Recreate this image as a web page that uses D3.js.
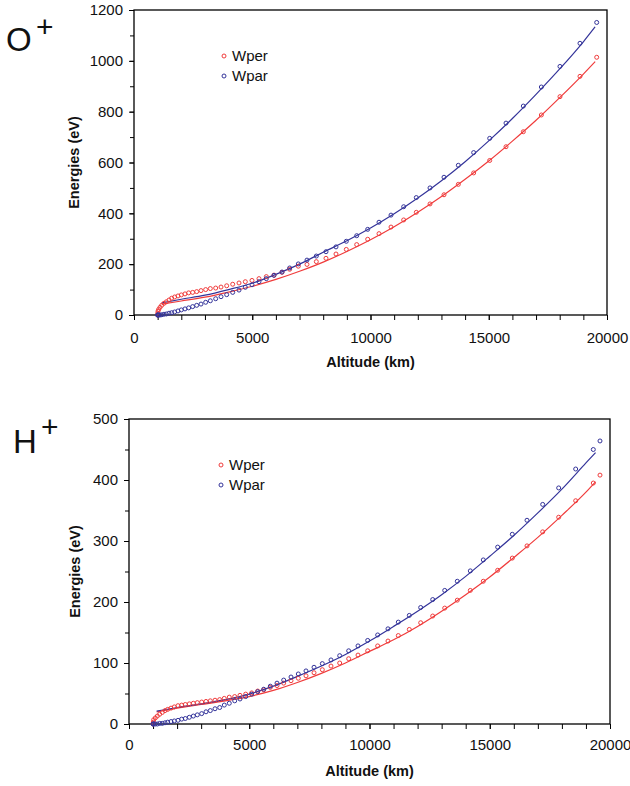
<!DOCTYPE html>
<html>
<head>
<meta charset="utf-8">
<script src="https://cdn.jsdelivr.net/npm/d3@7"></script>
<style>
  body { margin: 0; background: #fff; }
  text { font-family: "Liberation Sans", Arial, sans-serif; }
</style>
</head>
<body>
<div id="content"></div>
<script>

// ---- O+ panel (top) ----
oAlt = [1000, 1005, 1015, 1043, 1099, 1170, 1268, 1367, 1480, 1592,
  1719, 1860, 2001, 2156, 2311, 2480, 2650, 2833, 3030, 3228,
  3454, 3679, 3919, 4173, 4440, 4707, 4989, 5285, 5595, 5920,
  6258, 6582, 6948, 7315, 7709, 8118, 8541, 8977, 9416, 9881,
  10360, 10867, 11403, 11937, 12516, 13108, 13714, 14362, 15040, 15730,
  16462, 17224, 18012, 18858, 19564]
oWper = [0, 7, 15, 22, 30, 38, 46, 52, 59, 66,
  71, 75, 79, 83, 87, 89, 92, 96, 100, 104,
  106, 110, 115, 121, 126, 131, 136, 143, 151, 157,
  168, 180, 192, 199, 210, 223, 240, 258, 277, 298,
  320, 346, 374, 404, 437, 473, 514, 559, 608, 662,
  721, 787, 859, 939, 1014]
oWpar = [0, 0, 0, 0, 0, 1, 3, 4, 7, 9,
  12, 16, 20, 24, 28, 33, 38, 43, 50, 56,
  64, 72, 80, 89, 98, 109, 119, 131, 143, 156,
  169, 185, 201, 216, 232, 249, 268, 290, 312, 337,
  365, 393, 426, 462, 500, 542, 589, 639, 695, 755,
  822, 897, 978, 1069, 1151]
// fitted curves
oFitAlt = [1170, 2000, 3000, 4000, 5000, 6000, 7000, 8000, 9000, 10000,
  11000, 12000, 13000, 14000, 15000, 16000, 17000, 18000, 19000, 19500]
oFitWper = [43, 55, 70, 90, 113, 140, 172, 208, 250, 296,
  347, 404, 466, 534, 606, 684, 766, 855, 948, 997]
oFitWpar = [48, 62, 78, 100, 125, 160, 200, 247, 292, 342,
  398, 460, 528, 603, 685, 773, 868, 968, 1075, 1134]

// ---- H+ panel (bottom) ----
hAlt = [1000, 1010, 1026, 1095, 1178, 1275, 1386, 1497, 1608, 1746,
  1884, 2037, 2190, 2342, 2508, 2675, 2841, 3022, 3202, 3381,
  3576, 3771, 3962, 4170, 4395, 4615, 4852, 5102, 5351, 5601,
  5876, 6154, 6432, 6736, 7040, 7360, 7693, 8038, 8399, 8761,
  9134, 9522, 9925, 10340, 10769, 11198, 11655, 12128, 12628, 13127,
  13651, 14192, 14732, 15330, 15938, 16549, 17201, 17866, 18573, 19306,
  19584]
hWper = [0, 3, 7, 10, 13, 16, 19, 22, 24, 26,
  28, 30, 31, 32, 33, 34, 35, 36, 37, 38,
  39, 40, 42, 44, 45, 47, 49, 51, 54, 56,
  60, 63, 67, 71, 75, 79, 84, 89, 95, 100,
  107, 113, 120, 128, 136, 145, 155, 166, 177, 190,
  203, 219, 234, 252, 272, 292, 315, 339, 366, 395,
  408]
hWpar = [0, 0, 0, 0, 0, 1, 1, 2, 3, 4,
  5, 6, 8, 9, 11, 13, 15, 17, 20, 22,
  25, 27, 31, 34, 38, 41, 45, 49, 53, 57,
  62, 67, 72, 77, 82, 87, 93, 99, 105, 112,
  120, 128, 137, 146, 156, 167, 178, 191, 204, 219,
  234, 251, 269, 290, 311, 334, 360, 387, 418, 450,
  464]
hFitAlt = [1150, 2000, 3000, 4000, 5000, 6000, 7000, 8000, 9000, 10000,
  11000, 12000, 13000, 14000, 15000, 16000, 17000, 18000, 19000, 19400]
hFitWper = [20, 26, 32, 38, 45, 55, 68, 83, 100, 119,
  138, 160, 185, 212, 241, 273, 306, 342, 380, 397]
hFitWpar = [21, 27, 33, 40, 49, 62, 78, 95, 114, 136,
  160, 185, 212, 242, 275, 309, 346, 385, 428, 445]

// axes
xTicks = [0, 5000, 10000, 15000, 20000]
oYTicks = [0, 200, 400, 600, 800, 1000, 1200]
hYTicks = [0, 100, 200, 300, 400, 500]
seriesNames = ['Wper', 'Wpar']
seriesColors = ['#f03c3c', '#34349a']

svg = d3.select('#content').append('svg')
  .attr('width', 630)
  .attr('height', 786)

styleAxis = function(sel) {
  sel.selectAll('text')
    .attr('font-size', 15)
    .attr('font-family', '"Liberation Sans", Arial, sans-serif')
    .attr('fill', '#111')
  sel.selectAll('line').attr('stroke', '#000')
  sel.select('.domain').remove()
}

buildPanel = function(p) {
  var x = d3.scaleLinear().domain([0, 20000]).range([p.left, p.right])
  var y = d3.scaleLinear().domain([0, p.yMax]).range([p.bottom, p.top])
  var g = svg.append('g')

  // minor ticks
  g.append('g')
    .attr('transform', 'translate(0,' + p.bottom + ')')
    .call(d3.axisBottom(x).tickValues(d3.range(0, 20001, 1000)).tickSize(5).tickFormat(''))
    .call(styleAxis)
  g.append('g')
    .attr('transform', 'translate(' + p.left + ',0)')
    .call(d3.axisLeft(y).tickValues(d3.range(0, p.yMax + 1, p.yMinor)).tickSize(4).tickFormat(''))
    .call(styleAxis)

  // major ticks + labels
  g.append('g')
    .attr('transform', 'translate(0,' + p.bottom + ')')
    .call(d3.axisBottom(x).tickValues(xTicks).tickSize(5).tickPadding(p.xPad).tickFormat(d3.format('d')))
    .call(styleAxis)
  g.append('g')
    .attr('transform', 'translate(' + p.left + ',0)')
    .call(d3.axisLeft(y).tickValues(p.yTicks).tickSize(5).tickPadding(6).tickFormat(d3.format('d')))
    .call(styleAxis)

  // frame
  g.append('rect')
    .attr('x', p.left)
    .attr('y', p.top)
    .attr('width', p.right - p.left)
    .attr('height', p.bottom - p.top)
    .attr('fill', 'none')
    .attr('stroke', '#000')
    .attr('stroke-width', 1.3)

  // fitted curves
  var fits = [p.fitWper, p.fitWpar]
  for (i = 0; i < fits.length; i++) {
    var pts = p.fitAlt.map(function(a, k) { return [a, fits[i][k]] })
    g.append('path')
      .attr('d', d3.line().x(function(d) { return x(d[0]) }).y(function(d) { return y(d[1]) })
        .curve(d3.curveMonotoneX)(pts))
      .attr('fill', 'none')
      .attr('stroke', seriesColors[i])
      .attr('stroke-width', 1.2)
  }

  // data markers
  var series = [p.wper, p.wpar]
  for (i = 0; i < series.length; i++) {
    g.append('g').selectAll('circle')
      .data(p.alt.map(function(a, k) { return [a, series[i][k]] }))
      .enter().append('circle')
      .attr('cx', function(d) { return x(d[0]) })
      .attr('cy', function(d) { return y(d[1]) })
      .attr('r', 2)
      .attr('fill', 'none')
      .attr('stroke', seriesColors[i])
      .attr('stroke-width', 1)
  }

  // legend
  for (i = 0; i < seriesNames.length; i++) {
    g.append('circle')
      .attr('cx', p.legX)
      .attr('cy', p.legY + i * 20)
      .attr('r', 2)
      .attr('fill', 'none')
      .attr('stroke', seriesColors[i])
      .attr('stroke-width', 1)
    g.append('text')
      .attr('x', p.legX + 8)
      .attr('y', p.legY + i * 20)
      .attr('dy', '0.35em')
      .attr('font-size', 15)
      .attr('fill', '#111')
      .text(seriesNames[i])
  }

  // axis titles
  g.append('text')
    .attr('x', (p.left + p.right) / 2)
    .attr('y', p.xTitleY)
    .attr('text-anchor', 'middle')
    .attr('font-size', 14.5)
    .attr('font-weight', 'bold')
    .attr('fill', '#111')
    .text('Altitude (km)')
  g.append('text')
    .attr('transform', 'translate(' + p.yTitleX + ',' + ((p.top + p.bottom) / 2) + ') rotate(-90)')
    .attr('text-anchor', 'middle')
    .attr('font-size', 14.5)
    .attr('font-weight', 'bold')
    .attr('fill', '#111')
    .text('Energies (eV)')

  // ion label
  g.append('text')
    .attr('x', p.ionX)
    .attr('y', p.ionY)
    .attr('font-size', 33)
    .attr('fill', '#111')
    .text(p.ion)
  g.append('text')
    .attr('x', p.plusX)
    .attr('y', p.plusY)
    .attr('font-size', 30)
    .attr('fill', '#111')
    .text('+')
}

buildPanel({left: 134, right: 607, top: 10, bottom: 315, yMax: 1200, yMinor: 100,
  yTicks: oYTicks, xPad: 12, alt: oAlt, wper: oWper, wpar: oWpar,
  fitAlt: oFitAlt, fitWper: oFitWper, fitWpar: oFitWpar,
  legX: 224, legY: 56, xTitleY: 367, yTitleX: 79,
  ion: 'O', ionX: 6, ionY: 51, plusX: 36, plusY: 37})

buildPanel({left: 129, right: 610, top: 419, bottom: 724, yMax: 500, yMinor: 50,
  yTicks: hYTicks, xPad: 10, alt: hAlt, wper: hWper, wpar: hWpar,
  fitAlt: hFitAlt, fitWper: hFitWper, fitWpar: hFitWpar,
  legX: 221, legY: 465, xTitleY: 776, yTitleX: 80,
  ion: 'H', ionX: 13, ionY: 453, plusX: 41, plusY: 437})

</script>
</body>
</html>
